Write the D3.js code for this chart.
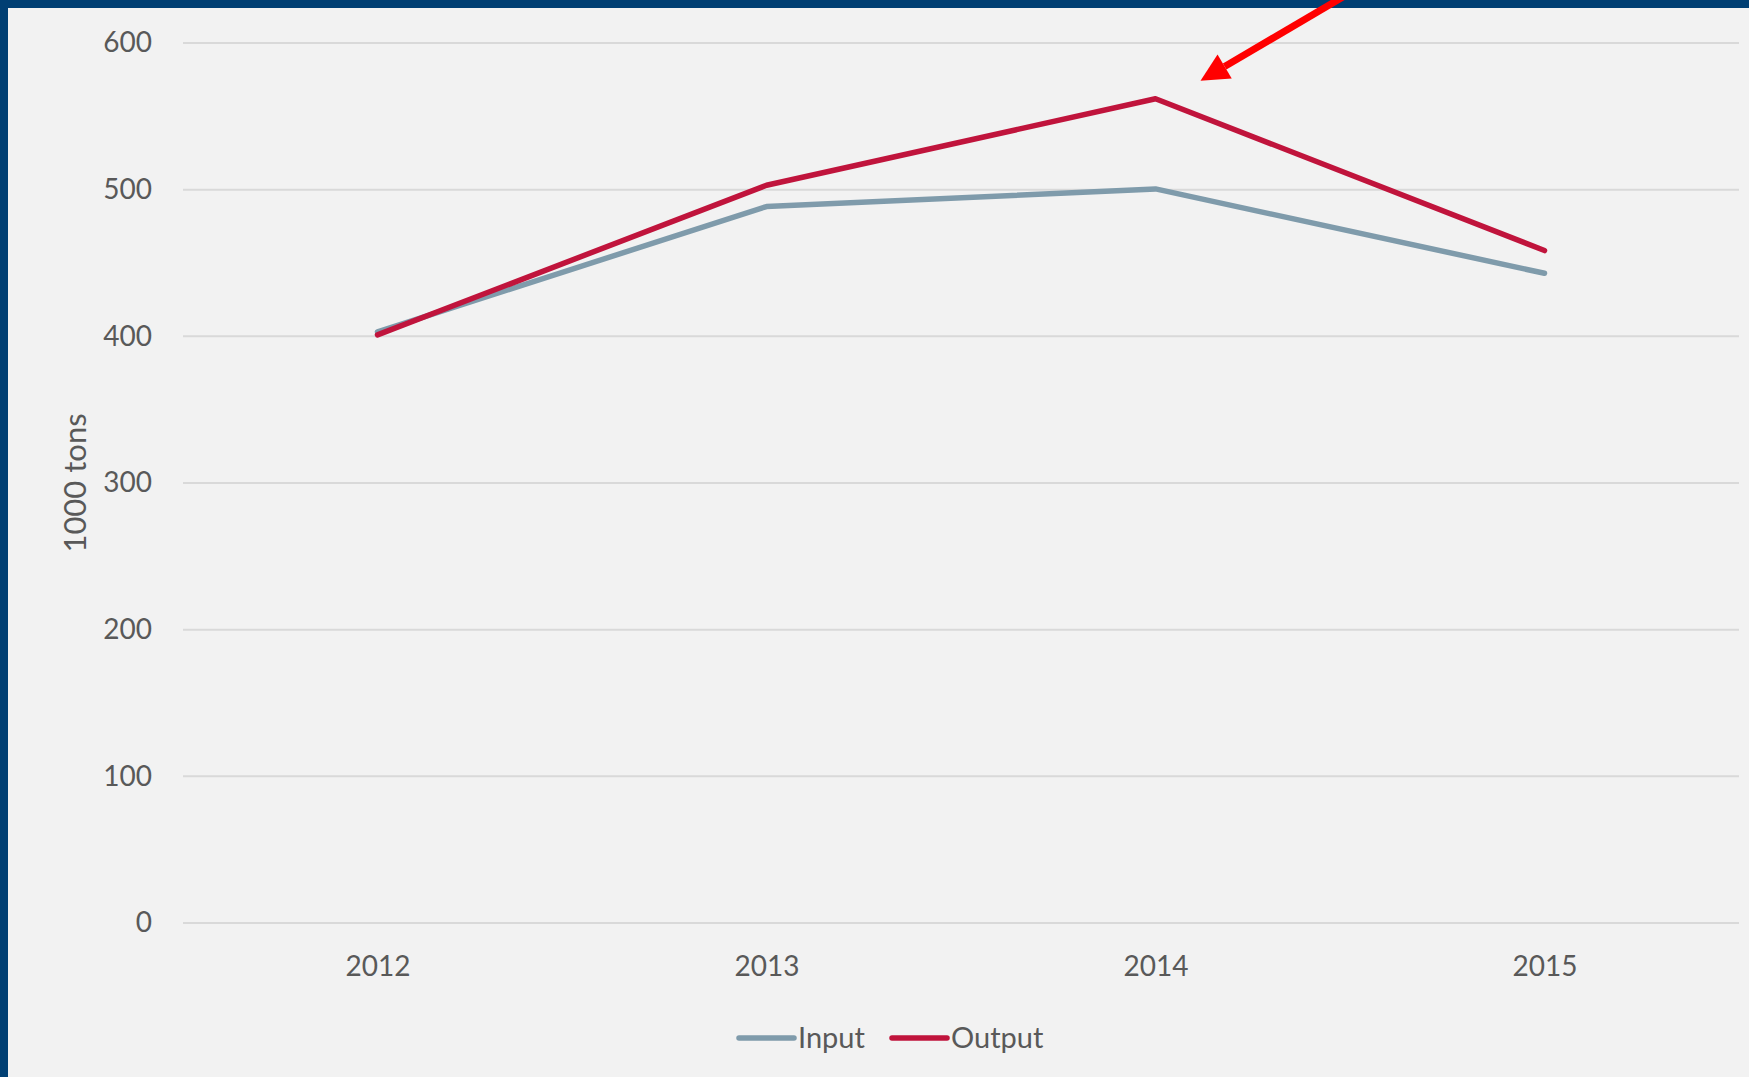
<!DOCTYPE html>
<html>
<head>
<meta charset="utf-8">
<script src="https://cdn.jsdelivr.net/npm/d3@7"></script>
<style>
  html, body { margin: 0; padding: 0; background: #f2f2f2; }
  svg { display: block; }
</style>
</head>
<body>
<svg id="chart" width="1749" height="1077"></svg>
<script>
const years = ["2012", "2013", "2014", "2015"];
const inputValues = [403, 488.5, 500.5, 443];
const outputValues = [401, 503, 562, 458.5];
const yTicks = [0, 100, 200, 300, 400, 500, 600];
const seriesNames = ["Input", "Output"];
const seriesColors = ["#7f9bab", "#c0143c"];
const yTitle = "1000 tons";

const W = 1749, H = 1077;
const margin = { left: 183, right: 10, top: 43, bottom: 154 };
const svg = d3.select("#chart");
const font = "Lato, 'Open Sans', sans-serif";
const fs = 28;

svg.append("rect").attr("width", W).attr("height", H).attr("fill", "#f2f2f2");

const x = d3.scalePoint().domain(years).range([margin.left, W - margin.right]).padding(0.5);
const y = d3.scaleLinear().domain([0, 600]).range([H - margin.bottom, margin.top]);

// gridlines
svg.append("g").selectAll("line").data(yTicks).join("line")
  .attr("x1", margin.left).attr("x2", W - margin.right)
  .attr("y1", d => y(d)).attr("y2", d => y(d))
  .attr("stroke", "#d9d9d9").attr("stroke-width", 2);

// y axis labels
const yAxis = d3.axisLeft(y).tickValues(yTicks).tickSize(0).tickPadding(31).tickFormat(d3.format("d"));
const gy = svg.append("g").attr("transform", `translate(${margin.left},0)`).call(yAxis);
gy.select(".domain").remove();
gy.selectAll("text").attr("font-family", font).attr("font-size", fs).attr("fill", "#595959");

// x axis labels
const xAxis = d3.axisBottom(x).tickSize(0).tickPadding(33);
const gx = svg.append("g").attr("transform", `translate(0,${y(0)})`).call(xAxis);
gx.select(".domain").remove();
gx.selectAll("text").attr("font-family", font).attr("font-size", fs).attr("fill", "#595959");

// y title
svg.append("text")
  .attr("transform", `translate(86,${(y(0) + y(600)) / 2}) rotate(-90)`)
  .attr("text-anchor", "middle")
  .attr("font-family", font).attr("font-size", 31).attr("fill", "#595959")
  .text(yTitle);

// lines
const line = d3.line().x((d, i) => x(years[i])).y(d => y(d));
[inputValues, outputValues].forEach((vals, k) => {
  svg.append("path").datum(vals)
    .attr("d", line)
    .attr("fill", "none")
    .attr("stroke", seriesColors[k])
    .attr("stroke-width", 5.5)
    .attr("stroke-linecap", "round")
    .attr("stroke-linejoin", "round");
});

// legend
const legendItems = [
  { name: seriesNames[0], color: seriesColors[0], x0: 739 },
  { name: seriesNames[1], color: seriesColors[1], x0: 892 }
];
const lg = svg.append("g");
legendItems.forEach(it => {
  lg.append("line").attr("x1", it.x0).attr("x2", it.x0 + 55)
    .attr("y1", 1038).attr("y2", 1038)
    .attr("stroke", it.color).attr("stroke-width", 5.5).attr("stroke-linecap", "round");
  lg.append("text").attr("x", it.x0 + 59).attr("y", 1048)
    .attr("font-family", font).attr("font-size", fs + 1).attr("fill", "#595959")
    .text(it.name);
});

// borders (top and left)
svg.append("rect").attr("x", 0).attr("y", 0).attr("width", W).attr("height", 8).attr("fill", "#003f73");
svg.append("rect").attr("x", 0).attr("y", 0).attr("width", 8).attr("height", H).attr("fill", "#003f73");

// red arrow annotation pointing at the 2014 Output peak
const peakX = x("2014"), peakY = y(outputValues[2]);
const tip = [peakX + 45, peakY - 18];
const tail = [tip[0] + 170, tip[1] - 100];
const ang = Math.atan2(tail[1] - tip[1], tail[0] - tip[0]);
const headLen = 28, headHalf = 14;
const base = [tip[0] + headLen * Math.cos(ang), tip[1] + headLen * Math.sin(ang)];
svg.append("line")
  .attr("x1", base[0]).attr("y1", base[1]).attr("x2", tail[0]).attr("y2", tail[1])
  .attr("stroke", "#ff0000").attr("stroke-width", 7);
svg.append("polygon")
  .attr("points", [
    tip,
    [base[0] + headHalf * Math.sin(ang), base[1] - headHalf * Math.cos(ang)],
    [base[0] - headHalf * Math.sin(ang), base[1] + headHalf * Math.cos(ang)]
  ].map(p => p.join(",")).join(" "))
  .attr("fill", "#ff0000");
</script>
</body>
</html>
